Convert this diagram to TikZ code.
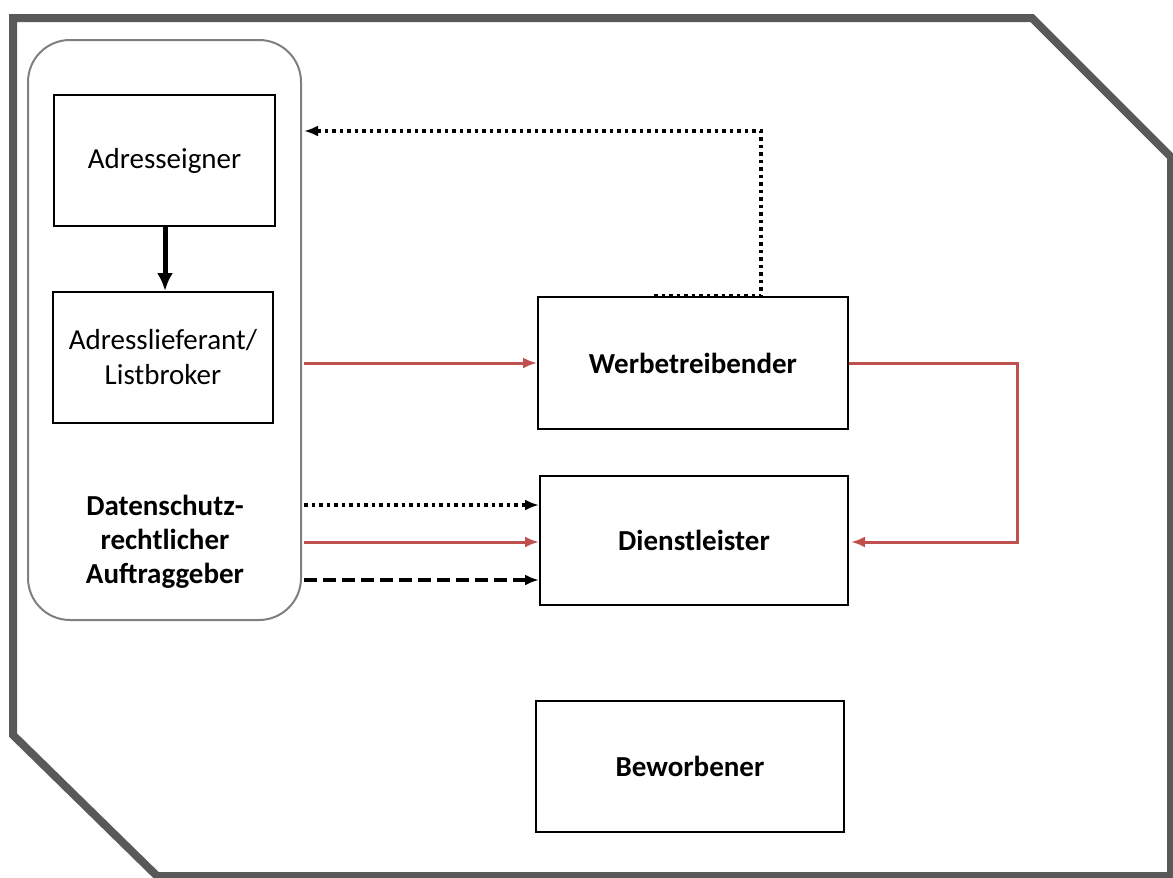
\documentclass[tikz,border=0pt]{standalone}
\usepackage{fontspec}
\setmainfont{Carlito}
\usepackage{tikz}
\usetikzlibrary{arrows.meta,positioning,calc}
\definecolor{framegray}{HTML}{595959}
\definecolor{groupgray}{HTML}{7F7F7F}
\definecolor{flowred}{HTML}{C0504D}
\tikzstyle{party}=[draw, line width=2pt, inner sep=0pt, align=center]
\tikzstyle{redflow}=[draw=flowred, line width=3pt, -{Latex[length=14pt,width=11pt]}]
\tikzstyle{dotflow}=[draw=black, line width=3.5pt, dash pattern=on 3.5pt off 4pt, -{Latex[length=14pt,width=11pt]}]
\tikzstyle{dashflow}=[draw=black, line width=3.5pt, dash pattern=on 13pt off 6pt, -{Latex[length=14pt,width=11pt]}]
\begin{document}
\begin{tikzpicture}[x=1pt,y=-1pt,font=\fontsize{29}{35}\selectfont]
    \useasboundingbox (0,0) rectangle (1173,878);

    % Frame
    \draw[framegray,line width=8pt,line join=miter]
    (13,735) -- (13,18) -- (1032,18) -- (1171,157)
    -- (1171,876) -- (157,876) -- cycle;

    % Group of the client
    \node[draw=groupgray, line width=2pt, rounded corners=42pt,
      minimum width=273pt, minimum height=580pt] (group) at (164.5,330) {};
    \node[party, minimum width=221pt, minimum height=131pt] (adr) at (164.5,160.5) {Adresseigner};
    \node[party, minimum width=220pt, minimum height=131pt] (lief) at (163,357.5) {Adresslieferant/\\Listbroker};
    \node[align=center, font=\fontsize{29}{34}\selectfont\bfseries] (auftr) at (165,542) {Datenschutz-\\rechtlicher\\Auftraggeber};

    % Parties
    \node[party, font=\fontsize{29}{35}\selectfont\bfseries, minimum width=310pt, minimum height=132pt] (werb) at (693,363) {Werbetreibender};
    \node[party, font=\fontsize{29}{35}\selectfont\bfseries, minimum width=308pt, minimum height=129pt] (dienst) at (694,540.5) {Dienstleister};
    \node[party, font=\fontsize{29}{35}\selectfont\bfseries, minimum width=308pt, minimum height=131pt] (bew) at (690,766.5) {Beworbener};

    % Flows
    \draw[line width=5pt, -{Latex[length=18pt,width=16pt]}] (adr.south -| 165,0) -- (lief.north -| 165,0);
    \draw[redflow] ($(group.east |- werb.west)+(2,0)$) -- (werb.west);
    \draw[redflow] (werb.east) -- ++(168,0) |- ($(dienst.east)+(2,1.5)$);
    \coordinate (dotstart) at ($(werb.north west)+(117,0)$);
    \draw[dotflow] (dotstart) -- ++(107,0) |- ($(group.east |- 0,131)+(2,0)$);
    \draw[dotflow] ($(group.east |- 0,505)+(2,0)$) -- (dienst.west |- 0,505);
    \draw[redflow] ($(group.east |- 0,542)+(2,0)$) -- (dienst.west |- 0,542);
    \draw[dashflow] ($(group.east |- 0,580)+(2,0)$) -- (dienst.west |- 0,580);

\end{tikzpicture}
\end{document}
